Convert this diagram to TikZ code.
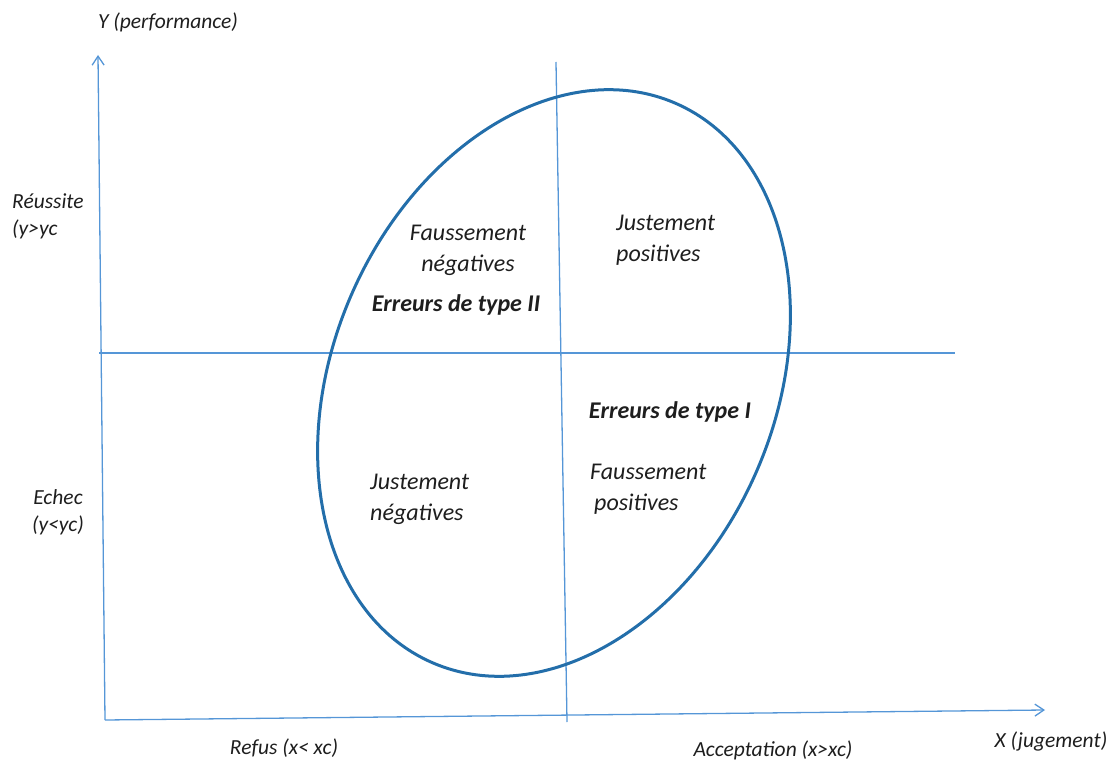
\documentclass[tikz,border=0pt]{standalone}
\usepackage{fontspec}
\setmainfont{Carlito}
\usetikzlibrary{arrows.meta}
\definecolor{axisblue}{RGB}{85,150,215}
\definecolor{ellblue}{RGB}{35,110,170}
\definecolor{txt}{RGB}{30,30,30}
\begin{document}
\begin{tikzpicture}[x=1pt,y=1pt,
  axis/.style={draw=axisblue,line width=1.3pt},
  arr/.style={axis,-{Straight Barb[length=9pt,width=12pt,line width=1.3pt]}},
  lbl/.style={font=\fontsize{21.5}{27}\selectfont\itshape,text=txt,inner sep=1pt},
  reg/.style={font=\fontsize{24}{31}\selectfont\itshape,text=txt,inner sep=1pt},
  boldlbl/.style={font=\fontsize{24}{31}\selectfont\bfseries\itshape,text=txt,inner sep=1pt}]
\useasboundingbox (0,0) rectangle (1109,-762);
% axes
\coordinate (O) at (105,-720);
\coordinate (Ytip) at (98,-55);
\coordinate (Xtip) at (1045,-710);
\coordinate (Vt) at (556,-62);
\coordinate (Vb) at (567,-722);
\coordinate (Hl) at (99,-353);
\coordinate (Hr) at (955,-353);
\draw[arr] (O) -- (Ytip);
\draw[arr] (O) -- (Xtip);
\draw[axis] (Vt) -- (Vb);
\draw[axis] (Hl) -- (Hr);
% ellipse
\draw[ellblue,line width=3pt,rotate around={66.5:(554,-383)}] (554,-383) ellipse [x radius=305pt, y radius=221pt];
% labels
\node[lbl] (ylab) at (168,-22) {Y (performance)};
\node[lbl,align=left,anchor=west] (reu) at (11,-216) {Réussite\\(y>yc};
\node[lbl,align=center] (ech) at (58,-512) {Echec\\(y<yc)};
\node[reg,align=center] (fn) at (468,-250) {Faussement\\négatives};
\node[boldlbl] (e2) at (456,-305) {Erreurs de type II};
\node[reg,align=left,anchor=west] (jp) at (615,-240) {Justement\\positives};
\node[boldlbl] (e1) at (670,-412) {Erreurs de type I};
\node[reg,align=left,anchor=west] (jn) at (369,-499) {Justement\\négatives};
\node[reg,align=left,anchor=west] (fp) at (589,-489) {Faussement\\\hspace*{4pt}positives};
\node[lbl] (refus) at (284,-748) {Refus (x< xc)};
\node[lbl] (acc) at (773,-750) {Acceptation (x>xc)};
\node[lbl] (xlab) at (1051,-741) {X (jugement)};
\end{tikzpicture}
\end{document}
